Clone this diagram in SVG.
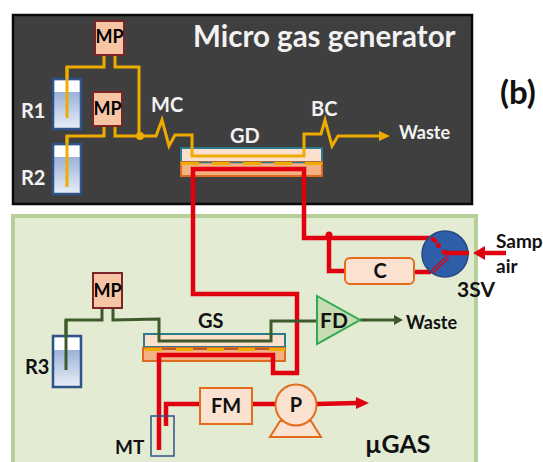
<svg xmlns="http://www.w3.org/2000/svg" width="543" height="462" viewBox="0 0 543 462">
<style>
text{font-family:Lato,"Open Sans",sans-serif;font-weight:700}
.w{fill:#f2f2f2}.k{fill:#111}
.mp{fill:#f6c6a4;stroke:#7d2526;stroke-width:2}
.res{fill:url(#liq);stroke:#2f5288;stroke-width:2.500}
.top{fill:#fff}
.y,.r,.g,.rt{fill:none;stroke-linejoin:miter}
.y{stroke:#f0ab00;stroke-width:3}
.r{stroke:#e0000f;stroke-width:4.500}
.rt{stroke:#e0000f;stroke-width:1.300}
.g{stroke:#3f5a2a;stroke-width:3}
.up{fill:#fbe0cd;stroke:#2b7a8e;stroke-width:2}
.lo{fill:#f4b183;stroke:#dd6a1f;stroke-width:2}
.box{fill:#fbe2d0;stroke:#e46c1c;stroke-width:2}
</style>
<defs>
<linearGradient id="liq" x1="0" y1="0" x2="0" y2="1"><stop offset="0" stop-color="#7f9ccf"/><stop offset="1" stop-color="#e9eef7"/></linearGradient>
</defs>
<rect width="543" height="462" fill="#fff"/>
<g id="micro-gas-generator"><rect x="13" y="15" width="459" height="189" fill="#3f3f3f" stroke="#0a0a0a" stroke-width="2.500"/><text x="193" y="47" font-size="29.500" class="w">Micro gas generator</text></g>
<g id="mu-gas"><rect x="13" y="216" width="463" height="250" fill="#e3ebd3" stroke="#b7d09a" stroke-width="4"/><text x="365" y="453" font-size="25" class="k">µGAS</text></g>
<text id="label-b" x="500" y="104" font-size="33" class="k">(b)</text>

<g id="GD"><rect class="up" x="181" y="148" width="141" height="14"/><rect class="lo" x="181" y="162" width="141" height="14"/><path d="M181 162.500H322" stroke="#2b7a8e" stroke-width="1.500"/><path d="M181 163.500H322" stroke="#f0ab00" stroke-width="3" stroke-dasharray="18 13" fill="none"/><text x="230" y="143" font-size="20" class="w">GD</text></g>
<g id="GS"><rect class="up" x="144" y="334" width="141" height="13"/><rect class="lo" x="143" y="348" width="142" height="13"/><path d="M145 349H285" stroke="#c0562a" stroke-width="2"/><path d="M145 349.500H285" stroke="#f0ab00" stroke-width="3" stroke-dasharray="17 14" fill="none"/><text x="198" y="328" font-size="20" class="k">GS</text></g>

<g id="connectors">
<path class="y" d="M104 55V67H67V118M115 55V67H139V136M104 126V136H67V187M115 126V136H156L162 120L169 146L175 135H192V156H304V134H321L325 120L332 146L338 136H382"/>
<path d="M390 136L379 131V141Z" fill="#f0ab00"/>
<circle cx="140" cy="136" r="4" fill="#f0ab00"/>
<path class="r" d="M159 450V355H273V373H297V294H193V169H304V238H431M329 238V271H345M414 272H431"/>
<circle cx="329" cy="235" r="3.500" fill="#e0000f"/>
<path class="r" d="M166 426V404H200M252 404H275M316 404L357 403"/>
<path d="M369 403L356 397V409Z" fill="#e0000f"/>
<path class="g" d="M102 308V320H66V370M113 308V320L159 319V341H271V321H317"/>
<path class="g" d="M360 320H395"/>
<path d="M403 320L394 315V325Z" fill="#3f5a2a"/>
</g>

<g id="MP1"><rect class="mp" x="95" y="21" width="29" height="34"/><text x="109.500" y="43" font-size="18" text-anchor="middle" fill="#000">MP</text></g>
<g id="MP2"><rect class="mp" x="93" y="92" width="29" height="34"/><text x="107.500" y="115" font-size="18" text-anchor="middle" fill="#000">MP</text></g>
<g id="MP3"><rect class="mp" x="93" y="273" width="29" height="35"/><text x="107.500" y="297" font-size="18" text-anchor="middle" fill="#000">MP</text></g>

<g id="R1"><rect class="res" x="53" y="79" width="28" height="50"/><rect class="top" x="54.500" y="80.500" width="25" height="11.500"/><path d="M67 67V118" class="y"/><text x="21" y="118" font-size="20" class="w">R1</text></g>
<g id="R2"><rect class="res" x="53" y="144" width="28" height="50"/><rect class="top" x="54.500" y="145.500" width="25" height="11.500"/><path d="M67 136V187" class="y"/><text x="21" y="185" font-size="20" class="w">R2</text></g>
<g id="R3"><rect class="res" x="53" y="336" width="28" height="51"/><rect class="top" x="54.500" y="337.500" width="25" height="12.500"/><path d="M66 320V370" class="g"/><text x="25" y="374" font-size="20" class="k">R3</text></g>

<text id="label-MC" x="151" y="112" font-size="20" class="w">MC</text>
<text id="label-BC" x="311" y="116" font-size="20" class="w">BC</text>
<text id="label-waste-1" x="399" y="139" font-size="18" class="w">Waste</text>

<g id="C"><rect class="box" x="345" y="258" width="69" height="26" rx="5"/><text x="380" y="278" font-size="20" text-anchor="middle" class="k">C</text></g>
<g id="SV3"><circle cx="445" cy="254" r="23" fill="#2f5ea8" stroke="#24497f" stroke-width="1.500"/>
<path d="M431 238L437 242" class="r" style="stroke-width:4"/><circle cx="438.500" cy="245.500" r="2.500" fill="#e0000f"/><circle cx="444" cy="252" r="2.500" fill="#e0000f"/><path d="M444 253H469" class="r"/><path class="rt" d="M431 271L447 256M433 273L449 258"/>
<text x="457" y="297" font-size="21" class="k">3SV</text></g>
<g id="sample-air"><path d="M506 253H482" class="r"/><path d="M473 253L485 246V260Z" fill="#e0000f"/><text x="496" y="248" font-size="19" class="k">Samp</text><text x="496" y="273" font-size="19" class="k">air</text></g>
<g id="FD"><path d="M317 296L360 320L317 344Z" fill="#c6dcb2" stroke="#2fa84f" stroke-width="2"/><text x="320" y="328" font-size="21" class="k">FD</text></g>
<text id="label-waste-2" x="406" y="329" font-size="18" class="k">Waste</text>
<g id="MT"><rect x="151" y="416" width="23" height="40" fill="none" stroke="#2f5288" stroke-width="1.500"/><text x="115" y="454" font-size="19" class="k">MT</text></g>
<g id="FM"><rect class="box" x="200" y="388" width="52" height="36"/><text x="226" y="413" font-size="20" text-anchor="middle" class="k">FM</text></g>
<g id="P"><path d="M280 421L270 437H321L311 421Z" class="box"/><circle cx="296" cy="405" r="20.500" class="box"/><text x="296" y="412" font-size="20" text-anchor="middle" class="k">P</text></g>
</svg>
